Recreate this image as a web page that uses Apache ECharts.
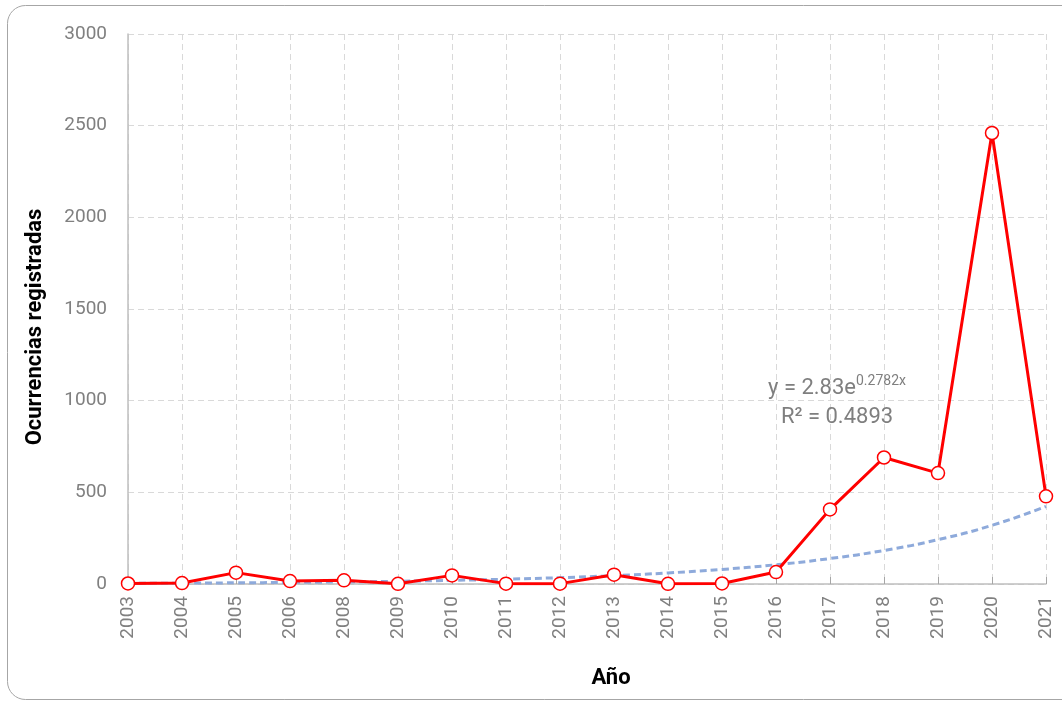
<!DOCTYPE html>
<html>
<head>
<meta charset="utf-8">
<script src="https://cdn.jsdelivr.net/npm/echarts@6/dist/echarts.min.js"></script>
<style>
html,body{margin:0;padding:0;background:#fff;}
#chart{width:1062px;height:702px;}
</style>
</head>
<body>
<div id="chart"></div>
<script>
const years = ['2003','2004','2005','2006','2008','2009','2010','2011','2012','2013','2014','2015','2016','2017','2018','2019','2020','2021'];
const ocurrencias = [3, 5, 62, 16, 20, 1, 47, 2, 2, 51, 1, 3, 65, 407, 690, 605, 2460, 478];
const tendencia = [3.7, 4.9, 6.5, 8.6, 11.3, 15, 19.8, 26.2, 34.6, 45.7, 60.3, 79.6, 105, 139, 183, 242, 320, 423];
const yTicks = [0, 500, 1000, 1500, 2000, 2500, 3000];

const chart = echarts.init(document.getElementById('chart'));
chart.setOption({
  animation: false,
  backgroundColor: '#fff',
  textStyle: { fontFamily: 'Roboto' },
  graphic: [{
    type: 'rect', silent: true, z: -10,
    shape: { x: 7.5, y: 5.5, width: 1080, height: 694, r: 18 },
    style: { fill: 'none', stroke: '#a6a6a6', lineWidth: 1 }
  }],
  grid: { left: 128, right: 16, top: 34, bottom: 118, containLabel: false },
  xAxis: {
    type: 'category',
    data: years,
    boundaryGap: false,
    name: 'Año',
    nameLocation: 'middle',
    nameGap: 83,
    nameTextStyle: { fontFamily: 'Roboto', fontWeight: 'bold', fontSize: 22, color: '#000', padding: [0, 0, 0, 48] },
    axisLine: { lineStyle: { color: '#bfbfbf', width: 1.5 } },
    axisTick: { show: true, inside: true, length: 7, lineStyle: { color: '#a6a6a6' } },
    axisLabel: { rotate: 90, margin: 12, fontSize: 19, color: '#808080', fontFamily: 'Roboto' },
    splitLine: { show: true, lineStyle: { color: '#d9d9d9', type: [6, 4], width: 1 } }
  },
  yAxis: {
    type: 'value',
    min: yTicks[0],
    max: yTicks[yTicks.length - 1],
    interval: 500,
    name: 'Ocurrencias registradas',
    nameLocation: 'middle',
    nameGap: 82,
    nameTextStyle: { fontFamily: 'Roboto', fontWeight: 'bold', fontSize: 22, color: '#000', padding: [0, 36, 0, 0] },
    axisLine: { show: true, lineStyle: { color: '#bfbfbf', width: 1.5 } },
    axisTick: { show: false },
    axisLabel: { margin: 21, fontSize: 19, color: '#808080', fontFamily: 'Roboto', formatter: function (v) { return String(v); } },
    splitLine: { show: true, lineStyle: { color: '#d9d9d9', type: [6, 4], width: 1 } }
  },
  series: [
    {
      name: 'Tendencia',
      type: 'line',
      data: tendencia,
      smooth: true,
      symbol: 'none',
      z: 2,
      lineStyle: { color: '#8eaadb', width: 3, type: [7, 4] },
      markPoint: {
        symbol: 'circle', symbolSize: 0,
        data: [{ coord: ['2017', 985] }],
        label: {
          show: true,
          offset: [7, 0],
          formatter: '{a|y = 2.83e}{b|0.2782x}\n{a|R² = 0.4893}',
          align: 'center',
          verticalAlign: 'middle',
          rich: {
            a: { fontSize: 22, color: '#7f7f7f', lineHeight: 29, fontFamily: 'Roboto' },
            b: { fontSize: 14, color: '#7f7f7f', lineHeight: 29, verticalAlign: 'top', fontFamily: 'Roboto', padding: [0, 0, 8, 0] }
          }
        }
      }
    },
    {
      name: 'Ocurrencias',
      type: 'line',
      data: ocurrencias,
      z: 3,
      symbol: 'circle',
      symbolSize: 13,
      lineStyle: { color: '#ff0000', width: 3 },
      itemStyle: { color: '#ffffff', borderColor: '#ff0000', borderWidth: 1.5 }
    }
  ]
});
</script>
</body>
</html>
